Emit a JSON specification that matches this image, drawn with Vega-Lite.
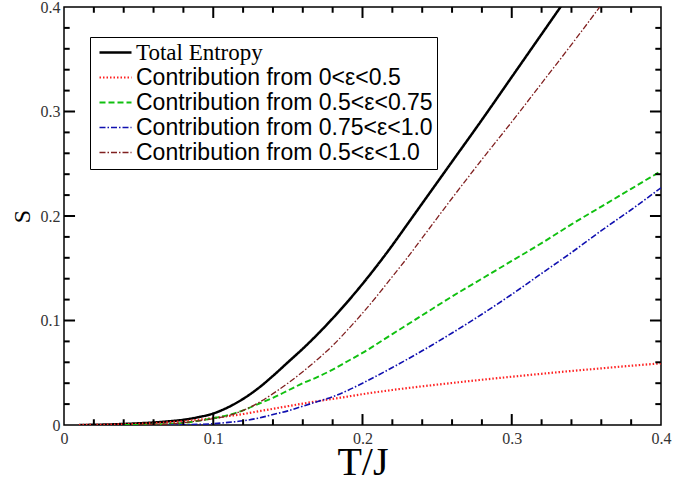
{
  "$schema": "https://vega.github.io/schema/vega-lite/v6.json",
  "width": 597,
  "height": 418,
  "autosize": {"type": "none"},
  "padding": {"left": 64, "top": 7, "right": 36, "bottom": 58},
  "background": "white",
  "config": {
    "view": {"stroke": "black", "strokeWidth": 1.5},
    "axis": {
      "domain": false,
      "ticks": false,
      "grid": false,
      "format": "~g",
      "labelFont": "Liberation Serif",
      "labelFontSize": 16,
      "labelColor": "#333",
      "titleFont": "Liberation Serif",
      "titleColor": "black",
      "titleFontWeight": "normal",
      "labelOverlap": false,
      "labelBound": false,
      "labelFlush": false
    }
  },
  "datasets": {
    "major": [{"v":0.1},{"v":0.2},{"v":0.3}],
    "minor": [{"v":0.02},{"v":0.04},{"v":0.06},{"v":0.08},{"v":0.12},{"v":0.14},{"v":0.16},{"v":0.18},{"v":0.22},{"v":0.24},{"v":0.26},{"v":0.28},{"v":0.32},{"v":0.34},{"v":0.36},{"v":0.38}],
    "curves": [
    {"T":0.01,"S":0,"c":"Total Entropy"},{"T":0.02,"S":0.0002,"c":"Total Entropy"},{"T":0.03,"S":0.0005,"c":"Total Entropy"},{"T":0.04,"S":0.001,"c":"Total Entropy"},{"T":0.05,"S":0.0016,"c":"Total Entropy"},{"T":0.06,"S":0.0024,"c":"Total Entropy"},{"T":0.07,"S":0.0035,"c":"Total Entropy"},{"T":0.08,"S":0.005,"c":"Total Entropy"},{"T":0.09,"S":0.0075,"c":"Total Entropy"},{"T":0.10,"S":0.011,"c":"Total Entropy"},{"T":0.11,"S":0.017,"c":"Total Entropy"},{"T":0.12,"S":0.025,"c":"Total Entropy"},{"T":0.13,"S":0.035,"c":"Total Entropy"},{"T":0.14,"S":0.047,"c":"Total Entropy"},{"T":0.15,"S":0.060,"c":"Total Entropy"},{"T":0.16,"S":0.073,"c":"Total Entropy"},{"T":0.17,"S":0.087,"c":"Total Entropy"},{"T":0.18,"S":0.102,"c":"Total Entropy"},{"T":0.19,"S":0.118,"c":"Total Entropy"},{"T":0.20,"S":0.135,"c":"Total Entropy"},{"T":0.21,"S":0.153,"c":"Total Entropy"},{"T":0.22,"S":0.172,"c":"Total Entropy"},{"T":0.23,"S":0.192,"c":"Total Entropy"},{"T":0.24,"S":0.212,"c":"Total Entropy"},{"T":0.25,"S":0.232,"c":"Total Entropy"},{"T":0.26,"S":0.252,"c":"Total Entropy"},{"T":0.28,"S":0.292,"c":"Total Entropy"},{"T":0.30,"S":0.333,"c":"Total Entropy"},{"T":0.32,"S":0.374,"c":"Total Entropy"},{"T":0.34,"S":0.415,"c":"Total Entropy"},
    {"T":0.01,"S":0,"c":"Contribution from 0<ε<0.5"},{"T":0.02,"S":0.0001,"c":"Contribution from 0<ε<0.5"},{"T":0.03,"S":0.0003,"c":"Contribution from 0<ε<0.5"},{"T":0.04,"S":0.0007,"c":"Contribution from 0<ε<0.5"},{"T":0.05,"S":0.0012,"c":"Contribution from 0<ε<0.5"},{"T":0.06,"S":0.0018,"c":"Contribution from 0<ε<0.5"},{"T":0.07,"S":0.0026,"c":"Contribution from 0<ε<0.5"},{"T":0.08,"S":0.0036,"c":"Contribution from 0<ε<0.5"},{"T":0.09,"S":0.005,"c":"Contribution from 0<ε<0.5"},{"T":0.10,"S":0.0066,"c":"Contribution from 0<ε<0.5"},{"T":0.11,"S":0.0085,"c":"Contribution from 0<ε<0.5"},{"T":0.12,"S":0.0105,"c":"Contribution from 0<ε<0.5"},{"T":0.13,"S":0.013,"c":"Contribution from 0<ε<0.5"},{"T":0.14,"S":0.0155,"c":"Contribution from 0<ε<0.5"},{"T":0.15,"S":0.018,"c":"Contribution from 0<ε<0.5"},{"T":0.16,"S":0.0205,"c":"Contribution from 0<ε<0.5"},{"T":0.17,"S":0.0228,"c":"Contribution from 0<ε<0.5"},{"T":0.18,"S":0.025,"c":"Contribution from 0<ε<0.5"},{"T":0.19,"S":0.0272,"c":"Contribution from 0<ε<0.5"},{"T":0.20,"S":0.0295,"c":"Contribution from 0<ε<0.5"},{"T":0.22,"S":0.0335,"c":"Contribution from 0<ε<0.5"},{"T":0.24,"S":0.037,"c":"Contribution from 0<ε<0.5"},{"T":0.26,"S":0.0402,"c":"Contribution from 0<ε<0.5"},{"T":0.28,"S":0.0433,"c":"Contribution from 0<ε<0.5"},{"T":0.30,"S":0.0462,"c":"Contribution from 0<ε<0.5"},{"T":0.32,"S":0.049,"c":"Contribution from 0<ε<0.5"},{"T":0.34,"S":0.0517,"c":"Contribution from 0<ε<0.5"},{"T":0.36,"S":0.0542,"c":"Contribution from 0<ε<0.5"},{"T":0.38,"S":0.0567,"c":"Contribution from 0<ε<0.5"},{"T":0.40,"S":0.059,"c":"Contribution from 0<ε<0.5"},
    {"T":0.04,"S":0,"c":"Contribution from 0.5<ε<0.75"},{"T":0.05,"S":0.0001,"c":"Contribution from 0.5<ε<0.75"},{"T":0.06,"S":0.0003,"c":"Contribution from 0.5<ε<0.75"},{"T":0.07,"S":0.001,"c":"Contribution from 0.5<ε<0.75"},{"T":0.08,"S":0.002,"c":"Contribution from 0.5<ε<0.75"},{"T":0.09,"S":0.004,"c":"Contribution from 0.5<ε<0.75"},{"T":0.10,"S":0.0065,"c":"Contribution from 0.5<ε<0.75"},{"T":0.11,"S":0.0095,"c":"Contribution from 0.5<ε<0.75"},{"T":0.12,"S":0.014,"c":"Contribution from 0.5<ε<0.75"},{"T":0.13,"S":0.020,"c":"Contribution from 0.5<ε<0.75"},{"T":0.14,"S":0.026,"c":"Contribution from 0.5<ε<0.75"},{"T":0.15,"S":0.033,"c":"Contribution from 0.5<ε<0.75"},{"T":0.16,"S":0.040,"c":"Contribution from 0.5<ε<0.75"},{"T":0.17,"S":0.046,"c":"Contribution from 0.5<ε<0.75"},{"T":0.18,"S":0.053,"c":"Contribution from 0.5<ε<0.75"},{"T":0.19,"S":0.061,"c":"Contribution from 0.5<ε<0.75"},{"T":0.20,"S":0.069,"c":"Contribution from 0.5<ε<0.75"},{"T":0.22,"S":0.087,"c":"Contribution from 0.5<ε<0.75"},{"T":0.24,"S":0.105,"c":"Contribution from 0.5<ε<0.75"},{"T":0.26,"S":0.123,"c":"Contribution from 0.5<ε<0.75"},{"T":0.28,"S":0.140,"c":"Contribution from 0.5<ε<0.75"},{"T":0.30,"S":0.157,"c":"Contribution from 0.5<ε<0.75"},{"T":0.32,"S":0.174,"c":"Contribution from 0.5<ε<0.75"},{"T":0.34,"S":0.192,"c":"Contribution from 0.5<ε<0.75"},{"T":0.36,"S":0.209,"c":"Contribution from 0.5<ε<0.75"},{"T":0.38,"S":0.226,"c":"Contribution from 0.5<ε<0.75"},{"T":0.40,"S":0.243,"c":"Contribution from 0.5<ε<0.75"},
    {"T":0.07,"S":0,"c":"Contribution from 0.75<ε<1.0"},{"T":0.08,"S":0.0002,"c":"Contribution from 0.75<ε<1.0"},{"T":0.09,"S":0.0006,"c":"Contribution from 0.75<ε<1.0"},{"T":0.10,"S":0.0012,"c":"Contribution from 0.75<ε<1.0"},{"T":0.11,"S":0.0025,"c":"Contribution from 0.75<ε<1.0"},{"T":0.12,"S":0.004,"c":"Contribution from 0.75<ε<1.0"},{"T":0.13,"S":0.0065,"c":"Contribution from 0.75<ε<1.0"},{"T":0.14,"S":0.010,"c":"Contribution from 0.75<ε<1.0"},{"T":0.15,"S":0.0135,"c":"Contribution from 0.75<ε<1.0"},{"T":0.16,"S":0.018,"c":"Contribution from 0.75<ε<1.0"},{"T":0.17,"S":0.0225,"c":"Contribution from 0.75<ε<1.0"},{"T":0.18,"S":0.027,"c":"Contribution from 0.75<ε<1.0"},{"T":0.19,"S":0.033,"c":"Contribution from 0.75<ε<1.0"},{"T":0.20,"S":0.040,"c":"Contribution from 0.75<ε<1.0"},{"T":0.22,"S":0.055,"c":"Contribution from 0.75<ε<1.0"},{"T":0.24,"S":0.071,"c":"Contribution from 0.75<ε<1.0"},{"T":0.26,"S":0.088,"c":"Contribution from 0.75<ε<1.0"},{"T":0.28,"S":0.106,"c":"Contribution from 0.75<ε<1.0"},{"T":0.30,"S":0.125,"c":"Contribution from 0.75<ε<1.0"},{"T":0.32,"S":0.145,"c":"Contribution from 0.75<ε<1.0"},{"T":0.34,"S":0.165,"c":"Contribution from 0.75<ε<1.0"},{"T":0.36,"S":0.186,"c":"Contribution from 0.75<ε<1.0"},{"T":0.38,"S":0.206,"c":"Contribution from 0.75<ε<1.0"},{"T":0.40,"S":0.227,"c":"Contribution from 0.75<ε<1.0"},
    {"T":0.05,"S":0,"c":"Contribution from 0.5<ε<1.0"},{"T":0.06,"S":0.0004,"c":"Contribution from 0.5<ε<1.0"},{"T":0.07,"S":0.001,"c":"Contribution from 0.5<ε<1.0"},{"T":0.08,"S":0.0022,"c":"Contribution from 0.5<ε<1.0"},{"T":0.09,"S":0.004,"c":"Contribution from 0.5<ε<1.0"},{"T":0.10,"S":0.006,"c":"Contribution from 0.5<ε<1.0"},{"T":0.11,"S":0.009,"c":"Contribution from 0.5<ε<1.0"},{"T":0.12,"S":0.014,"c":"Contribution from 0.5<ε<1.0"},{"T":0.13,"S":0.021,"c":"Contribution from 0.5<ε<1.0"},{"T":0.14,"S":0.030,"c":"Contribution from 0.5<ε<1.0"},{"T":0.15,"S":0.040,"c":"Contribution from 0.5<ε<1.0"},{"T":0.16,"S":0.051,"c":"Contribution from 0.5<ε<1.0"},{"T":0.17,"S":0.063,"c":"Contribution from 0.5<ε<1.0"},{"T":0.18,"S":0.076,"c":"Contribution from 0.5<ε<1.0"},{"T":0.19,"S":0.091,"c":"Contribution from 0.5<ε<1.0"},{"T":0.20,"S":0.107,"c":"Contribution from 0.5<ε<1.0"},{"T":0.21,"S":0.124,"c":"Contribution from 0.5<ε<1.0"},{"T":0.22,"S":0.142,"c":"Contribution from 0.5<ε<1.0"},{"T":0.23,"S":0.160,"c":"Contribution from 0.5<ε<1.0"},{"T":0.24,"S":0.179,"c":"Contribution from 0.5<ε<1.0"},{"T":0.26,"S":0.217,"c":"Contribution from 0.5<ε<1.0"},{"T":0.28,"S":0.254,"c":"Contribution from 0.5<ε<1.0"},{"T":0.30,"S":0.290,"c":"Contribution from 0.5<ε<1.0"},{"T":0.32,"S":0.327,"c":"Contribution from 0.5<ε<1.0"},{"T":0.34,"S":0.364,"c":"Contribution from 0.5<ε<1.0"},{"T":0.36,"S":0.402,"c":"Contribution from 0.5<ε<1.0"}
    ]
  },
  "layer": [
    {
      "data": {"name": "curves"},
      "mark": {"type": "line", "clip": true, "interpolate": "monotone"},
      "encoding": {
        "x": {"field": "T", "type": "quantitative",
          "scale": {"domain": [0, 0.4], "nice": false, "zero": false},
          "axis": {"orient": "bottom", "title": "T/J", "titleFontSize": 40, "titlePadding": -4,
            "values": [0, 0.1, 0.2, 0.3, 0.4], "labelPadding": 5}},
        "y": {"field": "S", "type": "quantitative",
          "scale": {"domain": [0, 0.4], "nice": false, "zero": false},
          "axis": {"orient": "left", "title": "S", "titleFontSize": 24, "titlePadding": 6,
            "values": [0, 0.1, 0.2, 0.3, 0.4], "labelPadding": 4}},
        "color": {"field": "c", "type": "nominal",
          "scale": {"domain": ["Total Entropy","Contribution from 0<ε<0.5","Contribution from 0.5<ε<0.75","Contribution from 0.75<ε<1.0","Contribution from 0.5<ε<1.0"],
                    "range": ["#000000","#ff2020","#10c010","#1010b0","#802020"]},
          "legend": {"orient": "none", "legendX": 26, "legendY": 30, "title": null,
            "strokeColor": "black", "fillColor": "white", "padding": 4,
            "symbolType": "M-1.6,0H1.6", "symbolSize": 400, "symbolOffset": 10,
            "labelFont": "Liberation Sans", "labelFontSize": 23, "labelColor": "black", "labelLimit": 0,
            "rowPadding": 1, "labelOffset": 9,
            "encode": {"labels": {"update": {"font": {"signal": "datum.label === 'Total Entropy' ? 'Liberation Serif' : 'Liberation Sans'"}}}}}},
        "strokeDash": {"field": "c", "type": "nominal",
          "scale": {"domain": ["Total Entropy","Contribution from 0<ε<0.5","Contribution from 0.5<ε<0.75","Contribution from 0.75<ε<1.0","Contribution from 0.5<ε<1.0"],
                    "range": [[1,0],[1.5,2],[6,3],[6,2,1.5,2],[6,2,1.5,2]]}},
        "strokeWidth": {"field": "c", "type": "nominal",
          "scale": {"domain": ["Total Entropy","Contribution from 0<ε<0.5","Contribution from 0.5<ε<0.75","Contribution from 0.75<ε<1.0","Contribution from 0.5<ε<1.0"],
                    "range": [2.5,1.3,1.3,1.3,1.3]}}
      }
    },
    {"data": {"name": "major"}, "mark": {"type": "rule", "stroke": "#000000", "strokeWidth": 2},
     "encoding": {"x": {"field": "v", "type": "quantitative"}, "y": {"datum": 0, "type": "quantitative"}, "y2": {"datum": 0.0105}}},
    {"data": {"name": "minor"}, "mark": {"type": "rule", "stroke": "#000000", "strokeWidth": 2},
     "encoding": {"x": {"field": "v", "type": "quantitative"}, "y": {"datum": 0, "type": "quantitative"}, "y2": {"datum": 0.0055}}},
    {"data": {"name": "major"}, "mark": {"type": "rule", "stroke": "#000000", "strokeWidth": 2},
     "encoding": {"x": {"field": "v", "type": "quantitative"}, "y": {"datum": 0.4, "type": "quantitative"}, "y2": {"datum": 0.3895}}},
    {"data": {"name": "minor"}, "mark": {"type": "rule", "stroke": "#000000", "strokeWidth": 2},
     "encoding": {"x": {"field": "v", "type": "quantitative"}, "y": {"datum": 0.4, "type": "quantitative"}, "y2": {"datum": 0.3945}}},
    {"data": {"name": "major"}, "mark": {"type": "rule", "stroke": "#000000", "strokeWidth": 2},
     "encoding": {"y": {"field": "v", "type": "quantitative"}, "x": {"datum": 0, "type": "quantitative"}, "x2": {"datum": 0.0074}}},
    {"data": {"name": "minor"}, "mark": {"type": "rule", "stroke": "#000000", "strokeWidth": 2},
     "encoding": {"y": {"field": "v", "type": "quantitative"}, "x": {"datum": 0, "type": "quantitative"}, "x2": {"datum": 0.0038}}},
    {"data": {"name": "major"}, "mark": {"type": "rule", "stroke": "#000000", "strokeWidth": 2},
     "encoding": {"y": {"field": "v", "type": "quantitative"}, "x": {"datum": 0.4, "type": "quantitative"}, "x2": {"datum": 0.3926}}},
    {"data": {"name": "minor"}, "mark": {"type": "rule", "stroke": "#000000", "strokeWidth": 2},
     "encoding": {"y": {"field": "v", "type": "quantitative"}, "x": {"datum": 0.4, "type": "quantitative"}, "x2": {"datum": 0.3962}}}
  ]
}
